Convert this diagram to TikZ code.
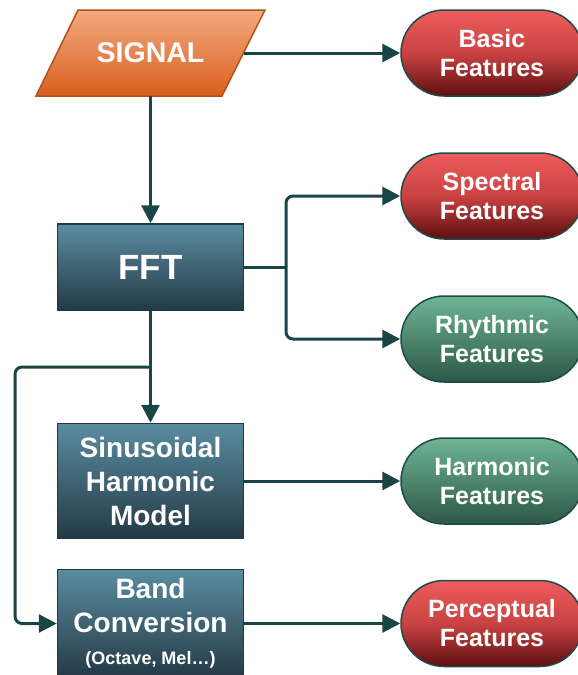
\documentclass[tikz,border=0pt]{standalone}
\usepackage{fontspec}
\setmainfont{Liberation Sans}
\usetikzlibrary{shapes.misc,arrows.meta}
\definecolor{lineC}{HTML}{1A4545}
\definecolor{orTop}{HTML}{F4AA80}
\definecolor{orBot}{HTML}{D95E1E}
\definecolor{orBrd}{HTML}{B0501E}
\definecolor{bxTop}{HTML}{5A8CA0}
\definecolor{bxBot}{HTML}{243A46}
\definecolor{bxBrd}{HTML}{1C3A44}
\definecolor{rdTop}{HTML}{EE5C5C}
\definecolor{rdMid}{HTML}{C94242}
\definecolor{rdBot}{HTML}{5E0E10}
\definecolor{gnTop}{HTML}{6EB494}
\definecolor{gnBot}{HTML}{2C5846}
\definecolor{pillBrd}{HTML}{1E4A48}
\begin{document}
\begin{tikzpicture}[x=1pt,y=-1pt,
  every node/.style={font=\bfseries, text=white, align=center, inner sep=0pt},
  procbox/.style={rectangle, draw=bxBrd, line width=1.5pt, top color=bxTop, bottom color=bxBot, minimum width=186pt},
  redpill/.style={rounded rectangle, draw=pillBrd, line width=1.5pt, top color=rdTop, bottom color=rdBot, middle color=rdMid, minimum width=182pt, minimum height=86pt, font=\fontsize{25}{29}\bfseries},
  greenpill/.style={rounded rectangle, draw=pillBrd, line width=1.5pt, top color=gnTop, bottom color=gnBot, minimum width=182pt, minimum height=86pt, font=\fontsize{25}{29}\bfseries},
  arr/.style={draw=lineC, line width=3pt, -{Triangle[length=18pt,width=18pt]}},
  conn/.style={draw=lineC, line width=3pt}]
\useasboundingbox (0,0) rectangle (578,675);
% SIGNAL parallelogram
\draw[draw=orBrd, line width=1.5pt, top color=orTop, bottom color=orBot] (78,10) -- (265,10) -- (222,96) -- (36,96) -- cycle;
\node[minimum width=187pt, minimum height=86pt, font=\fontsize{28.5}{32}\bfseries] (signal) at (150.5,53) {SIGNAL};
% process boxes
\node[procbox, minimum height=86pt, font=\fontsize{35}{40}\bfseries] (fft) at (150.5,267) {FFT};
\node[procbox, minimum height=115pt, font=\fontsize{28}{34}\bfseries] (sinus) at (150.5,481) {Sinusoidal\\Harmonic\\Model};
\node[procbox, minimum height=108pt, font=\fontsize{28}{34}\bfseries] (band) at (150.5,623.5) {Band\\Conversion\\[-2pt]{\fontsize{18}{20}\bfseries (Octave, Mel…)}};
% feature pills
\node[redpill] (basic) at (492,53) {Basic\\Features};
\node[redpill] (spectral) at (492,196) {Spectral\\Features};
\node[greenpill] (rhythmic) at (492,339) {Rhythmic\\Features};
\node[greenpill] (harmonic) at (492,481) {Harmonic\\Features};
\node[redpill] (perceptual) at (492,623.5) {Perceptual\\Features};
% connectors
\coordinate (fork) at (286,267);
\coordinate (split) at (150.5,367);
\coordinate (leftrail) at (15,367);
\draw[arr] (signal.east) -- (basic.west);
\draw[arr] (signal.south) -- (fft.north);
\draw[conn] (fft.east) -- (fork);
\draw[arr, rounded corners=7pt] (fork) |- (spectral.west);
\draw[arr, rounded corners=7pt] (fork) |- (rhythmic.west);
\draw[arr] (fft.south) -- (sinus.north);
\draw[arr, rounded corners=7pt] (split) -- (leftrail) |- (band.west);
\draw[arr] (sinus.east) -- (harmonic.west);
\draw[arr] (band.east) -- (perceptual.west);
\end{tikzpicture}
\end{document}
